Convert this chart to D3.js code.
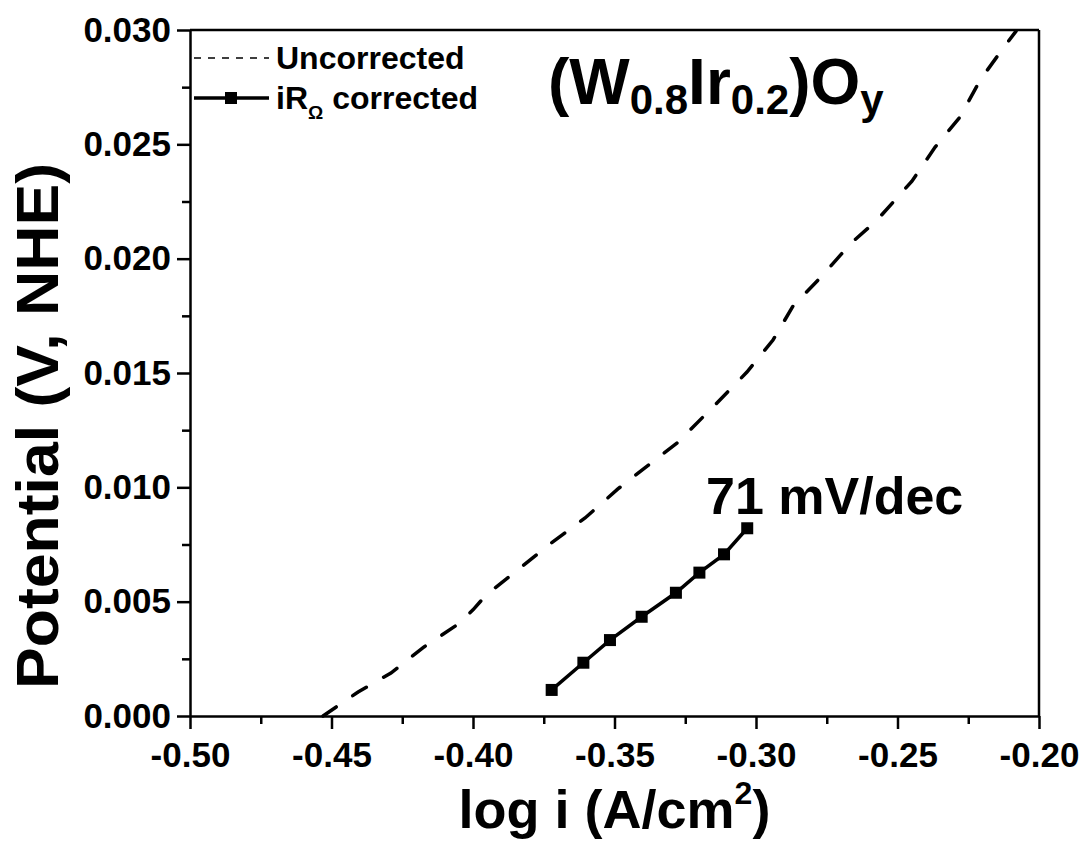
<!DOCTYPE html>
<html>
<head>
<meta charset="utf-8">
<script src="https://cdn.jsdelivr.net/npm/d3@7"></script>
<style>
  body { margin: 0; background: #fff; }
  svg text { font-family: "Liberation Sans", Arial, sans-serif; font-weight: bold; fill: #000; }
</style>
</head>
<body>
<div class="chart"></div>
<script>
// data
var uncorrX = [-0.4530, -0.4406, -0.4290, -0.4173, -0.4057, -0.4000, -0.3954, -0.3838, -0.3728,
  -0.3604, -0.3488, -0.3371, -0.3279, -0.3145, -0.3032, -0.2940, -0.2869, -0.2767, -0.2664,
  -0.2572, -0.2449, -0.2367, -0.2279, -0.2208, -0.2131, -0.2081];
var uncorrY = [0.00000, 0.00105, 0.00188, 0.00302, 0.00398, 0.00464, 0.00529, 0.00643, 0.00752,
  0.00866, 0.00993, 0.01106, 0.01194, 0.01360, 0.01504, 0.01644, 0.01793, 0.01924, 0.02068,
  0.02169, 0.02339, 0.02488, 0.02620, 0.02781, 0.02913, 0.02995];
var corrX = [-0.3722, -0.3610, -0.3516, -0.3404, -0.3283, -0.3200, -0.3113, -0.3031];
var corrY = [0.00114, 0.00233, 0.00332, 0.00434, 0.00539, 0.00627, 0.00707, 0.00821];
var xTicks = [-0.50, -0.45, -0.40, -0.35, -0.30, -0.25, -0.20];
var yTicks = [0.000, 0.005, 0.010, 0.015, 0.020, 0.025, 0.030];

var svgWidth = 1083, svgHeight = 842;
var margin = {top: 30, right: 44, bottom: 126, left: 190};
var width = svgWidth - margin.left - margin.right;
var height = svgHeight - margin.top - margin.bottom;

var svg = d3.select(".chart").append("svg")
  .attr("width", svgWidth)
  .attr("height", svgHeight);

var chartGroup = svg.append("g")
  .attr("transform", `translate(${margin.left}, ${margin.top})`);

var xScale = d3.scaleLinear().domain([-0.5, -0.2]).range([0, width]);
var yScale = d3.scaleLinear().domain([0, 0.03]).range([height, 0]);

// minor ticks at half steps
var xMinor = d3.range(xTicks.length - 1).map(i => (xTicks[i] + xTicks[i + 1]) / 2);
var yMinor = d3.range(yTicks.length - 1).map(i => (yTicks[i] + yTicks[i + 1]) / 2);

chartGroup.append("g")
  .attr("transform", `translate(0, ${height})`)
  .call(d3.axisBottom(xScale).tickValues(xMinor).tickSize(8).tickFormat(""))
  .call(g => g.select(".domain").remove())
  .selectAll("line").attr("stroke-width", 2.5);

chartGroup.append("g")
  .call(d3.axisLeft(yScale).tickValues(yMinor).tickSize(8).tickFormat(""))
  .call(g => g.select(".domain").remove())
  .selectAll("line").attr("stroke-width", 2.5);

// hyphen minus like the original, not the unicode one
var xAxis = chartGroup.append("g")
  .attr("transform", `translate(0, ${height})`)
  .call(d3.axisBottom(xScale).tickValues(xTicks).tickSize(13).tickSizeOuter(0)
    .tickPadding(12).tickFormat(d => d.toFixed(2)));
xAxis.selectAll("line").attr("stroke-width", 2.5);
xAxis.select(".domain").attr("stroke-width", 2.5);
xAxis.selectAll("text").attr("font-size", 35).attr("font-family", null).attr("dy", "0.75em");

var yAxis = chartGroup.append("g")
  .call(d3.axisLeft(yScale).tickValues(yTicks).tickSize(13).tickSizeOuter(0)
    .tickPadding(6).tickFormat(d => d.toFixed(3)));
yAxis.selectAll("line").attr("stroke-width", 2.5);
yAxis.select(".domain").attr("stroke-width", 2.5);
yAxis.selectAll("text").attr("font-size", 35).attr("font-family", null);

// top and right frame
chartGroup.append("line").attr("x1", 0).attr("x2", width).attr("y1", 0).attr("y2", 0)
  .attr("stroke", "black").attr("stroke-width", 2.5);
chartGroup.append("line").attr("x1", width).attr("x2", width).attr("y1", 0).attr("y2", height)
  .attr("stroke", "black").attr("stroke-width", 2.5);

var uncorr = uncorrX.map((x, i) => ({x: x, y: uncorrY[i]}));
var corr = corrX.map((x, i) => ({x: x, y: corrY[i]}));

var line = d3.line().x(d => xScale(d.x)).y(d => yScale(d.y));

// uncorrected curve
chartGroup.append("path")
  .datum(uncorr)
  .attr("d", line)
  .attr("fill", "none")
  .attr("stroke", "black")
  .attr("stroke-width", 3.5)
  .attr("stroke-linecap", "round")
  .attr("stroke-dasharray", "16,20");

// iR corrected
chartGroup.append("path")
  .datum(corr)
  .attr("d", line)
  .attr("fill", "none")
  .attr("stroke", "black")
  .attr("stroke-width", 3.5);

chartGroup.selectAll(".marker")
  .data(corr)
  .enter()
  .append("rect")
  .attr("class", "marker")
  .attr("x", d => xScale(d.x) - 6)
  .attr("y", d => yScale(d.y) - 6)
  .attr("width", 12)
  .attr("height", 12)
  .attr("fill", "black");

// legend
var legend = chartGroup.append("g").attr("transform", "translate(4, 28)");
legend.append("line").attr("x1", 0).attr("x2", 75).attr("y1", 0).attr("y2", 0)
  .attr("stroke", "black").attr("stroke-width", 1.5).attr("stroke-dasharray", "7,7");
legend.append("text").attr("x", 82).attr("y", 11).attr("font-size", 32).text("Uncorrected");
legend.append("line").attr("x1", 0).attr("x2", 75).attr("y1", 40).attr("y2", 40)
  .attr("stroke", "black").attr("stroke-width", 3.5);
legend.append("rect").attr("x", 31).attr("y", 34).attr("width", 12).attr("height", 12).attr("fill", "black");
var lt = legend.append("text").attr("x", 82).attr("y", 51).attr("font-size", 32);
lt.append("tspan").text("iR");
lt.append("tspan").attr("font-size", 19).attr("dy", 10).text("Ω");
lt.append("tspan").attr("dy", -10).text(" corrected");

// compound label
var title = svg.append("text").attr("x", 548).attr("y", 104).attr("font-size", 64);
title.append("tspan").text("(W");
title.append("tspan").attr("font-size", 42).attr("dy", 10).text("0.8");
title.append("tspan").attr("dy", -10).text("Ir");
title.append("tspan").attr("font-size", 42).attr("dy", 10).text("0.2");
title.append("tspan").attr("dy", -10).text(")O");
title.append("tspan").attr("font-size", 42).attr("dy", 10).text("y");

// slope annotation
svg.append("text").attr("x", 706).attr("y", 514).attr("font-size", 52).text("71 mV/dec");

// axis titles
var xt = svg.append("text").attr("x", margin.left + width / 2).attr("y", 828)
  .attr("text-anchor", "middle").attr("font-size", 54);
xt.append("tspan").text("log i (A/cm");
xt.append("tspan").attr("font-size", 32).attr("dy", -24).text("2");
xt.append("tspan").attr("dy", 24).text(")");

svg.append("text")
  .attr("transform", `translate(58, 426) rotate(-90)`)
  .attr("text-anchor", "middle")
  .attr("font-size", 60)
  .attr("textLength", 526)
  .attr("lengthAdjust", "spacingAndGlyphs")
  .text("Potential (V, NHE)");
</script>
</body>
</html>
